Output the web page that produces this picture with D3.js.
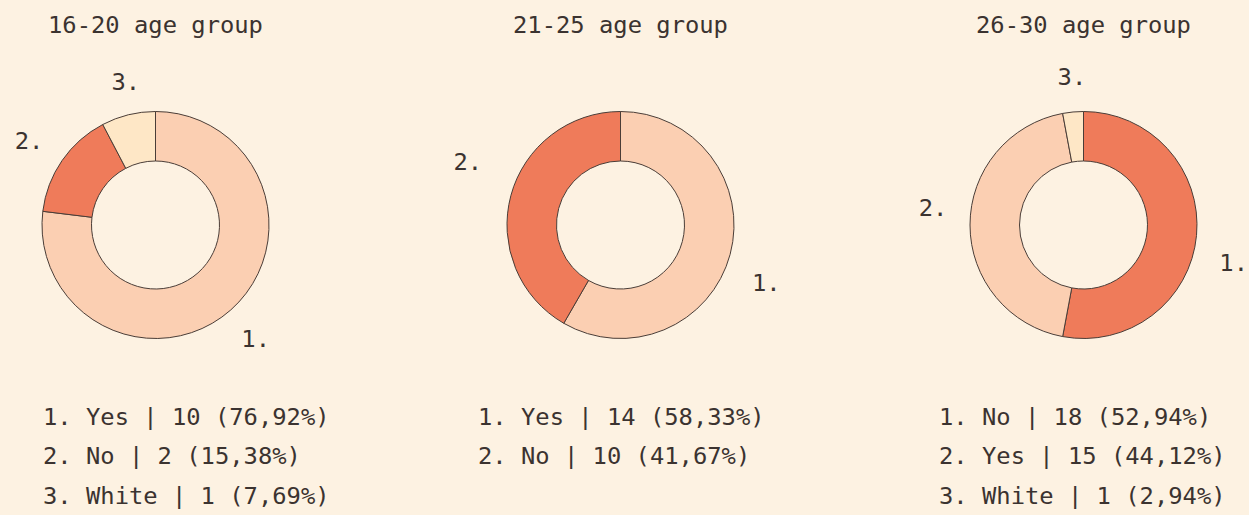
<!DOCTYPE html>
<html>
<head>
<meta charset="utf-8">
<script src="https://cdn.jsdelivr.net/npm/d3@7"></script>
<style>
  html, body { margin: 0; padding: 0; background: #fdf2e2; }
  svg { display: block; }
  text { font-family: "DejaVu Sans Mono", "Liberation Mono", monospace; fill: #3b3330; }
</style>
</head>
<body>
<svg id="chart" width="1249" height="515"></svg>
<script>
// ---- data ----
const groupTitles = ["16-20 age group", "21-25 age group", "26-30 age group"];
const answers1 = ["Yes", "No", "White"];
const counts1 = [10, 2, 1];
const answers2 = ["Yes", "No"];
const counts2 = [14, 10];
const answers3 = ["No", "Yes", "White"];
const counts3 = [18, 15, 1];
const answerColors = { "Yes": "#fbcfb2", "No": "#ef7b5a", "White": "#fee7c6" };

// ---- layout (not data) ----
const centersX = [155.5, 620.5, 1083.5];
const legendX = [43, 478, 939];
// per-label [angle nudge in degrees, label radius]
const labelPlacement = [
  [[0.3, 152], [-0.9, 152], [2.1, 146]],
  [[6.8, 157], [7.3, 165]],
  [[9, 155], [6.6, 151.5], [0.8, 148]]
];
const centerY = 225;
const outerR = 113.5, innerR = 64;

const groups = [
  { title: groupTitles[0], answers: answers1, counts: counts1 },
  { title: groupTitles[1], answers: answers2, counts: counts2 },
  { title: groupTitles[2], answers: answers3, counts: counts3 }
];

const svg = d3.select("#chart");
const pie = d3.pie().sort(null).value(d => d.count);
const arc = d3.arc().innerRadius(innerR).outerRadius(outerR);
const fmt = v => v.toFixed(2).replace(".", ",");

groups.forEach((g, gi) => {
  const data = g.answers.map((a, i) => ({ answer: a, count: g.counts[i] }));
  const total = d3.sum(g.counts);
  const cx = centersX[gi];

  svg.append("text")
    .attr("x", cx).attr("y", 33)
    .attr("text-anchor", "middle")
    .attr("font-size", "23.8px")
    .text(g.title);

  const gg = svg.append("g").attr("transform", `translate(${cx},${centerY})`);
  const arcs = pie(data);
  gg.selectAll("path").data(arcs).join("path")
    .attr("d", arc)
    .attr("fill", d => answerColors[d.data.answer])
    .attr("stroke", "#4a3d37")
    .attr("stroke-width", 1);

  const pos = (d, i) => {
    const [nudge, r] = labelPlacement[gi][i];
    const a = (d.startAngle + d.endAngle) / 2 + nudge * Math.PI / 180;
    return [r * Math.sin(a), -r * Math.cos(a)];
  };

  gg.selectAll("text.lbl").data(arcs).join("text")
    .attr("class", "lbl")
    .attr("font-size", "23.8px")
    .attr("text-anchor", "middle")
    .attr("dominant-baseline", "central")
    .attr("x", (d, i) => pos(d, i)[0])
    .attr("y", (d, i) => pos(d, i)[1])
    .text((d, i) => (i + 1) + ".");

  svg.append("g").selectAll("text").data(data).join("text")
    .attr("x", legendX[gi])
    .attr("y", (d, i) => 425 + i * 39.3)
    .attr("font-size", "23.8px")
    .text((d, i) => `${i + 1}. ${d.answer} | ${d.count} (${fmt(d.count / total * 100)}%)`);
});
</script>
</body>
</html>
